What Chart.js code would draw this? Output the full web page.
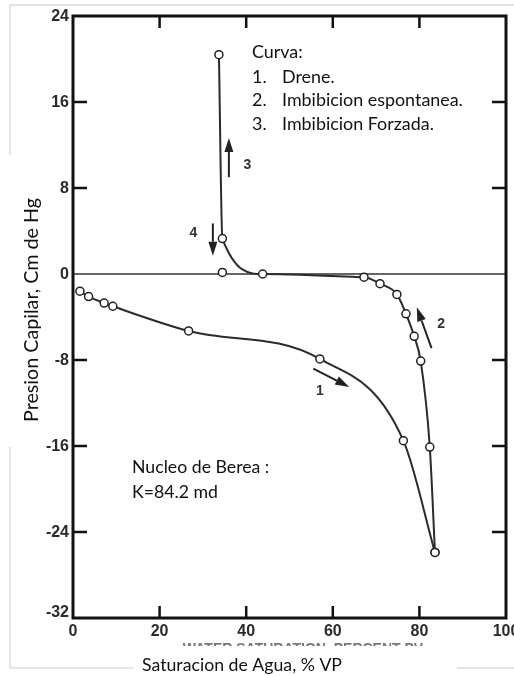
<!DOCTYPE html>
<html>
<head>
<meta charset="utf-8">
<script src="https://cdn.jsdelivr.net/npm/chart.js@4.4.1/dist/chart.umd.min.js"></script>
<style>
  html, body { margin: 0; padding: 0; background: #fff; }
  canvas { display: block; }
</style>
</head>
<body>
<canvas id="presion" width="514" height="676"></canvas>
<script>
var xTicks = [0, 20, 40, 60, 80, 100];
var yTicks = [24, 16, 8, 0, -8, -16, -24, -32];

// curva 1: drene
var dreneSw = [1.6, 3.6, 7.2, 9.2, 26.7, 57.0, 76.3, 83.6];
var drenePc = [-1.6, -2.1, -2.7, -3.0, -5.3, -7.9, -15.5, -25.9];

// curva 2: imbibicion espontanea (hasta Pc = 0)
var espontSw = [83.6, 82.4, 80.3, 78.8, 76.9, 74.8, 70.9, 67.2, 43.8];
var espontPc = [-25.9, -16.1, -8.1, -5.8, -3.7, -1.9, -0.9, -0.3, 0.0];

// curva 3: imbibicion forzada
var forzadaSw = [43.8, 34.5, 33.7];
var forzadaPc = [0.0, 3.3, 20.4];

// 4: regreso a Pc = 0
var regresoSw = [34.5];
var regresoPc = [0.15];

function puntos(xs, ys) {
  return xs.map(function (x, i) { return { x: x, y: ys[i] }; });
}

// la 2 y la 3 van en un solo trazo para que la curva no se quiebre en Pc = 0
var imbibicion = puntos(espontSw, espontPc).concat(puntos(forzadaSw, forzadaPc).slice(1));

var flechas = [
  { de: [55.5, -8.8], a: [63.8, -10.5], txt: '1', pos: [57.0, -10.9] },
  { de: [82.8, -6.9], a: [79.4, -3.1], txt: '2', pos: [85.0, -4.7] },
  { de: [36.0, 9.0], a: [36.0, 12.65], txt: '3', pos: [40.3, 10.1] },
  { de: [32.3, 4.7], a: [32.3, 1.7], txt: '4', pos: [27.8, 3.8] }
];

function flecha(ctx, x1, y1, x2, y2) {
  var ang = Math.atan2(y2 - y1, x2 - x1);
  var largo = 14, ancho = 4.5;
  var bx = x2 - largo * Math.cos(ang), by = y2 - largo * Math.sin(ang);
  ctx.beginPath();
  ctx.moveTo(x1, y1);
  ctx.lineTo(bx, by);
  ctx.stroke();
  ctx.beginPath();
  ctx.moveTo(x2, y2);
  ctx.lineTo(bx + ancho * Math.sin(ang), by - ancho * Math.cos(ang));
  ctx.lineTo(bx - ancho * Math.sin(ang), by + ancho * Math.cos(ang));
  ctx.closePath();
  ctx.fill();
}

// tamano de letra para que el texto ocupe el ancho dado
function ajustar(ctx, texto, ancho, familia) {
  ctx.font = '20px ' + familia;
  var t = 20 * ancho / ctx.measureText(texto).width;
  return t.toFixed(1) + 'px ' + familia;
}

var lineaCero = {
  id: 'lineaCero',
  beforeDatasetsDraw: function (chart) {
    var ctx = chart.ctx, a = chart.chartArea;
    var y0 = chart.scales.y.getPixelForValue(0);
    ctx.save();
    ctx.strokeStyle = '#333';
    ctx.lineWidth = 1.5;
    ctx.beginPath();
    ctx.moveTo(a.left, y0);
    ctx.lineTo(a.right, y0);
    ctx.stroke();
    ctx.restore();
  }
};

var marco = {
  id: 'marco',
  afterDraw: function (chart) {
    var ctx = chart.ctx, a = chart.chartArea;
    var sx = chart.scales.x, sy = chart.scales.y;
    var calibri = 'Lato, "Open Sans", sans-serif';
    ctx.save();

    // recuadro gris claro de la figura
    ctx.strokeStyle = '#dcdcdc';
    ctx.lineWidth = 1.5;
    ctx.beginPath();
    ctx.moveTo(10, 668); ctx.lineTo(10, 447);
    ctx.moveTo(10, 155); ctx.lineTo(10, 5); ctx.lineTo(514, 5);
    ctx.moveTo(10, 668); ctx.lineTo(133, 668);
    ctx.moveTo(457, 668); ctx.lineTo(514, 668);
    ctx.stroke();

    // ejes y marcas hacia adentro
    ctx.strokeStyle = '#111';
    ctx.lineWidth = 3;
    ctx.strokeRect(a.left, a.top, a.right - a.left, a.bottom - a.top);
    ctx.lineWidth = 2.5;
    ctx.beginPath();
    xTicks.forEach(function (v) {
      if (v === 0 || v === 100) return;
      var px = sx.getPixelForValue(v);
      ctx.moveTo(px, a.top); ctx.lineTo(px, a.top + 12);
      ctx.moveTo(px, a.bottom); ctx.lineTo(px, a.bottom - 12);
    });
    yTicks.forEach(function (v) {
      if (v === 24 || v === -32 || v === 0) return;
      var py = sy.getPixelForValue(v);
      ctx.moveTo(a.left, py); ctx.lineTo(a.left + 14, py);
      ctx.moveTo(a.right, py); ctx.lineTo(a.right - 14, py);
    });
    ctx.stroke();

    // etiquetas de los ejes
    ctx.fillStyle = '#2a2a2a';
    ctx.font = 'bold 16px "Liberation Sans", Arial, sans-serif';
    ctx.textAlign = 'center';
    ctx.textBaseline = 'middle';
    xTicks.forEach(function (v) {
      ctx.fillText(String(v), sx.getPixelForValue(v), 632);
    });
    ctx.textAlign = 'right';
    yTicks.forEach(function (v) {
      var py = sy.getPixelForValue(v);
      if (v === -32) py -= 6;
      ctx.fillText(String(v), a.left - 4, py + 1);
    });

    // titulo original en ingles, recortado bajo las etiquetas
    ctx.save();
    ctx.beginPath();
    ctx.rect(0, 641, 514, 5);
    ctx.clip();
    ctx.fillStyle = '#777';
    ctx.font = 'bold 14px "Liberation Sans", Arial, sans-serif';
    ctx.textAlign = 'center';
    ctx.textBaseline = 'top';
    ctx.fillText('WATER SATURATION, PERCENT PV', 303, 642);
    ctx.restore();

    // flechas y numeros de curva
    ctx.strokeStyle = '#222';
    ctx.fillStyle = '#222';
    ctx.lineWidth = 2;
    flechas.forEach(function (f) {
      flecha(ctx, sx.getPixelForValue(f.de[0]), sy.getPixelForValue(f.de[1]),
        sx.getPixelForValue(f.a[0]), sy.getPixelForValue(f.a[1]));
    });
    ctx.fillStyle = '#333';
    ctx.font = 'bold 14px "Liberation Sans", Arial, sans-serif';
    ctx.textAlign = 'center';
    ctx.textBaseline = 'middle';
    flechas.forEach(function (f) {
      ctx.fillText(f.txt, sx.getPixelForValue(f.pos[0]), sy.getPixelForValue(f.pos[1]));
    });

    // leyenda de curvas y datos del nucleo
    ctx.fillStyle = '#111';
    ctx.font = ajustar(ctx, 'Imbibicion espontanea.', 181, calibri);
    ctx.textAlign = 'left';
    ctx.fillText('Curva:', 252, 52);
    [['1.', 'Drene.'], ['2.', 'Imbibicion espontanea.'], ['3.', 'Imbibicion Forzada.']].forEach(function (r, i) {
      var yy = 77 + i * 23.5;
      ctx.fillText(r[0], 252, yy);
      ctx.fillText(r[1], 282, yy);
    });
    ctx.font = ajustar(ctx, 'Nucleo de Berea :', 137, calibri);
    ctx.fillText('Nucleo de Berea :', 132, 467);
    ctx.fillText('K=84.2 md', 132, 492);

    // titulos de ejes
    ctx.textAlign = 'center';
    ctx.font = ajustar(ctx, 'Saturacion de Agua, % VP', 200, calibri);
    ctx.fillText('Saturacion de Agua, % VP', 242, 665);
    ctx.font = ajustar(ctx, 'Presion Capilar, Cm de Hg', 224, calibri);
    ctx.translate(32, 310);
    ctx.rotate(-Math.PI / 2);
    ctx.fillText('Presion Capilar, Cm de Hg', 0, 0);
    ctx.restore();
  }
};

var estiloCurva = {
  showLine: true,
  borderColor: '#2b2b2b',
  borderWidth: 2,
  cubicInterpolationMode: 'monotone',
  pointRadius: 4,
  pointBackgroundColor: '#fff',
  pointBorderColor: '#222',
  pointBorderWidth: 1.5
};

new Chart(document.getElementById('presion'), {
  type: 'scatter',
  data: {
    datasets: [
      Object.assign({ label: 'Drene', data: puntos(dreneSw, drenePc) }, estiloCurva),
      Object.assign({ label: 'Imbibicion', data: imbibicion }, estiloCurva),
      Object.assign({ label: 'Regreso', data: puntos(regresoSw, regresoPc) }, estiloCurva, { showLine: false })
    ]
  },
  plugins: [lineaCero, marco],
  options: {
    responsive: false,
    animation: false,
    devicePixelRatio: 1,
    layout: { padding: { left: 73, top: 16, right: 8, bottom: 58 } },
    scales: {
      x: { type: 'linear', min: 0, max: 100, display: false },
      y: { type: 'linear', min: -32, max: 24, display: false }
    },
    plugins: {
      legend: { display: false },
      tooltip: { enabled: false }
    }
  }
});
</script>
</body>
</html>
